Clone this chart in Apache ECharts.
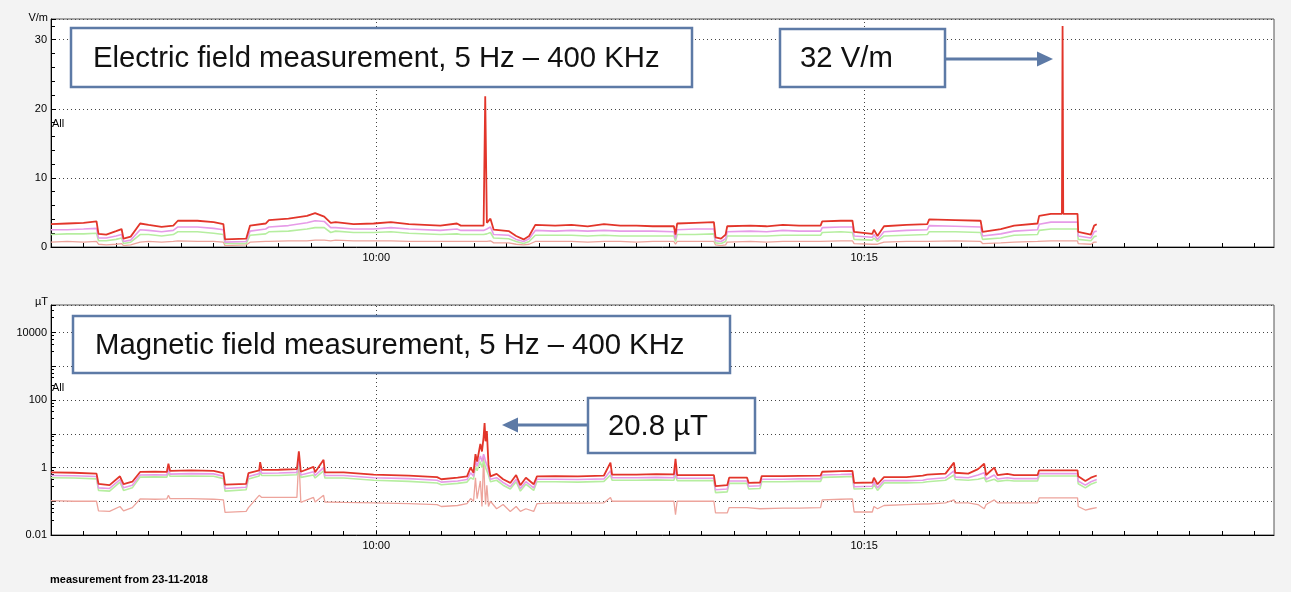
<!DOCTYPE html>
<html>
<head>
<meta charset="utf-8">
<title>Field measurement</title>
<script src="https://cdn.jsdelivr.net/npm/echarts@6/dist/echarts.min.js"></script>
<style>
  html, body { margin: 0; padding: 0; background: #f3f3f3; }
  #main { width: 1291px; height: 592px; }
</style>
</head>
<body>
<div id="main"></div>
<script>
// x values are minutes after 09:50
const TIME_TICKS = [10, 25];
const TIME_LABELS = ['10:00', '10:15'];

// electric field, V/m
const E_TICK_LABELS = ['0', '10', '20', '30'];
const E_TIME = [
  0.0, 0.5, 1.0, 1.4, 1.46, 1.7, 2.0, 2.17, 2.23, 2.45,
  2.74, 3.0, 3.4, 3.76, 3.9, 4.5, 5.0, 5.3, 5.35, 6.0,
  6.12, 6.6, 6.7, 7.3, 7.87, 8.12, 8.4, 8.6, 8.75, 9.3,
  9.92, 10.45, 11.0, 11.97, 12.48, 12.6, 13.3, 13.35, 13.4, 13.51,
  13.61, 14.07, 14.3, 14.53, 14.7, 14.89, 15.5, 16.0, 16.5, 17.0,
  17.5, 18.0, 18.5, 19.15, 19.2, 19.25, 19.8, 20.38, 20.43, 20.6,
  20.74, 20.79, 21.5, 22.0, 22.5, 23.0, 23.66, 23.71, 24.28, 24.64,
  24.69, 25.25, 25.3, 25.41, 25.61, 26.3, 26.94, 27.0, 27.8, 28.58,
  28.64, 29.2, 29.61, 30.33, 30.38, 30.74, 31.08, 31.1, 31.12, 31.56,
  31.58, 31.97, 32.07, 32.15
];
const E_RED = [
  3.3, 3.4, 3.5, 3.7, 1.9, 1.8, 2.3, 2.6, 1.2, 1.5,
  3.4, 3.2, 2.9, 3.1, 3.8, 3.8, 3.6, 3.3, 1.1, 1.2,
  3.1, 3.4, 3.9, 4.1, 4.5, 4.9, 4.4, 3.5, 3.6, 3.3,
  3.4, 3.6, 3.3, 3.1, 3.4, 3.1, 3.1, 21.8, 3.5, 4.1,
  2.5, 2.3, 1.6, 1.1, 1.6, 3.2, 3.1, 3.2, 3.0, 3.3,
  3.1, 3.1, 3.0, 3.0, 1.8, 3.4, 3.5, 3.6, 1.4, 1.2,
  1.8, 3.0, 3.1, 3.0, 3.2, 3.1, 3.1, 3.7, 3.8, 3.8,
  2.2, 1.9, 2.5, 1.6, 3.0, 3.2, 3.3, 4.0, 3.9, 3.8,
  2.2, 2.6, 3.1, 3.4, 4.5, 4.8, 4.8, 32.0, 4.8, 4.8,
  2.2, 1.8, 3.1, 3.3
];
const E_VIOLET = [
  2.5, 2.5, 2.6, 2.7, 1.3, 1.3, 1.6, 1.8, 0.8, 1.0,
  2.5, 2.4, 2.2, 2.4, 2.9, 2.9, 2.7, 2.5, 0.7, 0.8,
  2.3, 2.6, 2.9, 3.1, 3.5, 3.8, 3.7, 2.8, 2.8, 2.6,
  2.6, 2.8, 2.6, 2.4, 2.6, 2.4, 2.4, 2.6, 2.6, 2.9,
  1.8, 1.7, 1.1, 0.8, 1.2, 2.4, 2.3, 2.4, 2.3, 2.4,
  2.3, 2.3, 2.3, 2.2, 1.2, 2.5, 2.6, 2.6, 0.9, 0.8,
  1.2, 2.2, 2.3, 2.2, 2.4, 2.3, 2.3, 2.8, 2.9, 2.9,
  1.6, 1.4, 1.8, 1.1, 2.2, 2.4, 2.5, 3.1, 3.0, 2.9,
  1.6, 1.9, 2.3, 2.5, 3.3, 3.6, 3.6, 3.6, 3.6, 3.6,
  1.6, 1.3, 2.2, 2.3
];
const E_GREEN = [
  1.8, 1.9, 1.9, 2.0, 0.9, 0.9, 1.1, 1.3, 0.5, 0.7,
  1.8, 1.8, 1.6, 1.8, 2.2, 2.2, 2.0, 1.8, 0.5, 0.5,
  1.7, 1.9, 2.2, 2.3, 2.6, 2.8, 2.8, 2.1, 2.3, 2.1,
  2.1, 2.2, 2.0, 1.8, 1.9, 1.8, 1.8, 1.9, 1.9, 2.1,
  1.3, 1.2, 0.8, 0.5, 0.8, 1.7, 1.7, 1.7, 1.6, 1.7,
  1.6, 1.6, 1.6, 1.6, 0.8, 1.8, 1.8, 1.9, 0.6, 0.5,
  0.8, 1.6, 1.6, 1.6, 1.7, 1.7, 1.7, 2.1, 2.2, 2.1,
  1.1, 1.0, 1.3, 0.8, 1.6, 1.7, 1.8, 2.2, 2.2, 2.1,
  1.1, 1.3, 1.7, 1.8, 2.4, 2.6, 2.6, 2.6, 2.6, 2.6,
  1.1, 0.9, 1.5, 1.6
];
const E_SALMON = [
  0.7, 0.8, 0.7, 0.8, 0.4, 0.3, 0.4, 0.5, 0.2, 0.3,
  0.7, 0.8, 0.7, 0.8, 0.9, 0.8, 0.8, 0.7, 0.2, 0.3,
  0.7, 0.8, 0.8, 0.9, 0.9, 1.0, 1.0, 0.9, 1.0, 0.9,
  0.9, 0.9, 0.8, 0.8, 0.8, 0.8, 0.8, 0.9, 0.8, 0.9,
  0.6, 0.6, 0.4, 0.3, 0.4, 0.8, 0.8, 0.8, 0.7, 0.8,
  0.8, 0.7, 0.8, 0.8, 0.4, 0.8, 0.8, 0.8, 0.3, 0.2,
  0.3, 0.7, 0.8, 0.7, 0.8, 0.8, 0.8, 0.9, 0.9, 0.9,
  0.5, 0.4, 0.6, 0.4, 0.7, 0.8, 0.8, 0.9, 0.9, 0.8,
  0.5, 0.6, 0.7, 0.8, 0.9, 0.9, 0.9, 0.9, 0.9, 0.9,
  0.5, 0.4, 0.7, 0.7
];

// magnetic field, uT (log axis)
const B_TICK_VALUES = [0.01, 1, 100, 10000];
const B_TICK_LABELS = ['0.01', '1', '100', '10000'];
const B_TIME = [
  0.0, 0.7, 1.4, 1.46, 1.8, 2.12, 2.17, 2.23, 2.5, 2.74,
  3.2, 3.56, 3.61, 3.66, 4.3, 5.0, 5.3, 5.35, 6.0, 6.07,
  6.4, 6.43, 6.48, 7.0, 7.56, 7.62, 7.68, 8.07, 8.12, 8.38,
  8.42, 9.0, 9.92, 11.0, 11.87, 12.0, 12.5, 12.79, 12.9, 12.99,
  13.05, 13.1, 13.2, 13.25, 13.3, 13.33, 13.36, 13.4, 13.45, 13.51,
  13.7, 13.9, 14.12, 14.3, 14.43, 14.6, 14.84, 14.94, 15.5, 16.2,
  17.0, 17.2, 17.25, 18.0, 18.6, 19.15, 19.2, 19.25, 19.8, 20.38,
  20.43, 20.79, 20.85, 21.4, 21.45, 21.8, 21.85, 22.5, 23.0, 23.66,
  23.71, 24.28, 24.64, 24.69, 25.25, 25.3, 25.41, 25.61, 26.3, 26.8,
  26.94, 27.0, 27.5, 27.76, 27.8, 28.2, 28.5, 28.69, 28.75, 29.0,
  29.1, 29.4, 29.61, 30.33, 30.38, 31.56, 31.58, 31.8, 31.97, 32.15
];
const B_RED = [
  0.72, 0.70, 0.66, 0.33, 0.30, 0.55, 0.62, 0.32, 0.38, 0.74,
  0.76, 0.74, 1.3, 0.80, 0.82, 0.80, 0.68, 0.31, 0.33, 0.68,
  0.82, 1.45, 0.85, 0.86, 0.90, 3.0, 0.75, 1.05, 0.72, 1.7,
  0.72, 0.72, 0.62, 0.58, 0.52, 0.45, 0.50, 0.55, 1.0, 0.7,
  2.5, 1.5, 5.0, 3.0, 8.0, 20.8, 6.0, 12.0, 1.2, 0.55,
  0.65, 0.45, 0.35, 0.6, 0.3, 0.5, 0.32, 0.55, 0.56, 0.55,
  0.58, 1.4, 0.62, 0.62, 0.64, 0.63, 1.8, 0.6, 0.6, 0.6,
  0.28, 0.3, 0.5, 0.5, 0.35, 0.36, 0.56, 0.56, 0.57, 0.58,
  0.75, 0.78, 0.8, 0.35, 0.36, 0.5, 0.32, 0.52, 0.52, 0.58,
  0.62, 0.66, 0.66, 1.4, 0.7, 0.66, 0.9, 1.3, 0.6, 1.0,
  0.6, 0.65, 0.6, 0.6, 0.83, 0.83, 0.55, 0.4, 0.5, 0.58
];
const B_VIOLET = [
  0.58, 0.57, 0.54, 0.25, 0.24, 0.44, 0.48, 0.25, 0.30, 0.60,
  0.61, 0.60, 0.9, 0.64, 0.66, 0.65, 0.55, 0.24, 0.26, 0.54,
  0.66, 0.9, 0.68, 0.69, 0.72, 2.0, 0.6, 0.75, 0.58, 1.0,
  0.58, 0.58, 0.5, 0.47, 0.42, 0.37, 0.40, 0.44, 0.7, 0.55,
  1.6, 1.1, 2.2, 1.5, 2.5, 2.0, 1.5, 1.2, 0.8, 0.45,
  0.5, 0.36, 0.27, 0.45, 0.24, 0.38, 0.25, 0.45, 0.45, 0.44,
  0.46, 0.8, 0.5, 0.5, 0.51, 0.5, 0.9, 0.48, 0.48, 0.48,
  0.22, 0.23, 0.4, 0.4, 0.28, 0.29, 0.45, 0.45, 0.46, 0.46,
  0.6, 0.62, 0.64, 0.27, 0.28, 0.38, 0.25, 0.41, 0.41, 0.42,
  0.45, 0.5, 0.5, 0.8, 0.52, 0.5, 0.6, 0.7, 0.45, 0.6,
  0.46, 0.5, 0.47, 0.47, 0.66, 0.66, 0.4, 0.3, 0.38, 0.44
];
const B_GREEN = [
  0.50, 0.49, 0.46, 0.21, 0.20, 0.37, 0.41, 0.21, 0.25, 0.52,
  0.53, 0.52, 0.7, 0.55, 0.56, 0.55, 0.47, 0.20, 0.22, 0.46,
  0.56, 0.7, 0.58, 0.58, 0.61, 1.5, 0.51, 0.6, 0.49, 0.8,
  0.49, 0.49, 0.42, 0.39, 0.35, 0.31, 0.34, 0.37, 0.5, 0.45,
  1.1, 0.8, 1.5, 1.0, 1.6, 1.4, 1.0, 0.9, 0.6, 0.38,
  0.42, 0.3, 0.23, 0.38, 0.2, 0.32, 0.21, 0.38, 0.38, 0.37,
  0.39, 0.6, 0.42, 0.42, 0.43, 0.42, 0.6, 0.41, 0.41, 0.41,
  0.18, 0.19, 0.34, 0.34, 0.23, 0.24, 0.38, 0.38, 0.39, 0.39,
  0.51, 0.53, 0.54, 0.23, 0.24, 0.32, 0.21, 0.35, 0.35, 0.36,
  0.38, 0.42, 0.42, 0.6, 0.44, 0.42, 0.45, 0.5, 0.38, 0.45,
  0.39, 0.42, 0.4, 0.4, 0.56, 0.56, 0.33, 0.25, 0.32, 0.37
];
const B_SALMON = [
  0.105, 0.10, 0.10, 0.052, 0.05, 0.07, 0.075, 0.052, 0.065, 0.117,
  0.115, 0.117, 0.15, 0.12, 0.12, 0.115, 0.11, 0.047, 0.05, 0.065,
  0.15, 0.17, 0.13, 0.13, 0.13, 2.0, 0.093, 0.13, 0.095, 0.15,
  0.095, 0.093, 0.09, 0.085, 0.08, 0.07, 0.075, 0.085, 0.12, 0.1,
  0.5, 0.12, 0.4, 0.07, 2.0, 0.3, 0.08, 0.3, 0.07, 0.1,
  0.06, 0.08, 0.05, 0.07, 0.05, 0.06, 0.05, 0.085, 0.09, 0.088,
  0.09, 0.13, 0.1, 0.1, 0.1, 0.1, 0.04, 0.1, 0.1, 0.1,
  0.045, 0.045, 0.065, 0.065, 0.06, 0.06, 0.063, 0.063, 0.063, 0.065,
  0.11, 0.115, 0.117, 0.048, 0.048, 0.07, 0.06, 0.075, 0.08, 0.083,
  0.083, 0.085, 0.09, 0.11, 0.09, 0.09, 0.08, 0.06, 0.08, 0.11,
  0.09, 0.09, 0.09, 0.09, 0.126, 0.126, 0.07, 0.055, 0.06, 0.065
];

const COLORS = { red: '#e2352a', violet: '#e69be8', green: '#b6eea0', salmon: '#eda49c' };
const WIDTHS = { red: 1.8, violet: 1.6, green: 1.6, salmon: 1.3 };
const LABEL_FONT = '"Liberation Sans Narrow", "Liberation Sans", sans-serif';
const BOX = '#5d7aa6';
const dotted = { color: '#444', type: [1, 3], width: 1 };

const chart = echarts.init(document.getElementById('main'));

function pairs(times, vals) {
  return times.map((t, i) => [t, vals[i]]);
}

function xAxisFor(gridIndex) {
  return {
    type: 'value', gridIndex, min: 0, max: 37.6, interval: 1,
    axisLine: { show: true, lineStyle: { color: '#000' } },
    axisTick: { show: true, inside: true, length: 4, lineStyle: { color: '#000' } },
    splitLine: { show: false },
    axisLabel: {
      color: '#000', fontSize: 11, fontFamily: LABEL_FONT, margin: 5,
      showMinLabel: true, showMaxLabel: false,
      formatter: v => {
        const i = TIME_TICKS.indexOf(Math.round(v * 100) / 100);
        return i >= 0 ? TIME_LABELS[i] : '';
      }
    }
  };
}

function traces(prefix, data, gridIndex) {
  const names = ['salmon', 'green', 'violet', 'red'];
  return names.map((n, k) => ({
    type: 'line', name: prefix + n, xAxisIndex: gridIndex, yAxisIndex: gridIndex,
    data: pairs(data.time, data[n]), showSymbol: false, symbol: 'none',
    lineStyle: { color: COLORS[n], width: WIDTHS[n] },
    z: 2 + k,
    markLine: k === 0 ? {
      silent: true, symbol: ['none', 'none'], label: { show: false },
      lineStyle: dotted, animation: false,
      data: TIME_TICKS.map(t => ({ xAxis: t }))
    } : undefined
  }));
}

function boxWithText(x, y, w, h, text, tx) {
  return [
    { type: 'rect', shape: { x, y, width: w, height: h }, style: { fill: '#fff', stroke: BOX, lineWidth: 2.5 }, z: 10 },
    { type: 'text', style: { text, x: tx, y: y + h / 2 + 1, font: '29.3px "Liberation Sans", Arial, sans-serif', fill: '#111', verticalAlign: 'middle' }, z: 11 }
  ];
}

function arrow(x1, x2, y, dir) {
  const tip = x2, base = x2 - dir * 16;
  return [
    { type: 'line', shape: { x1, y1: y, x2: base, y2: y }, style: { stroke: BOX, lineWidth: 3 }, z: 10 },
    { type: 'polygon', shape: { points: [[base, y - 7.5], [tip, y], [base, y + 7.5]] }, style: { fill: BOX }, z: 10 }
  ];
}

function smallText(text, x, y, align) {
  return { type: 'text', style: { text, x, y, align, verticalAlign: 'middle', font: '11px ' + LABEL_FONT, fill: '#000' }, z: 11 };
}

const option = {
  animation: false,
  backgroundColor: '#f3f3f3',
  grid: [
    { left: 51, top: 19, right: 17, height: 228, show: true, backgroundColor: '#fff', borderColor: '#555', borderWidth: 1 },
    { left: 51, top: 305, right: 17, height: 230, show: true, backgroundColor: '#fff', borderColor: '#555', borderWidth: 1 }
  ],
  xAxis: [xAxisFor(0), xAxisFor(1)],
  yAxis: [
    {
      type: 'value', gridIndex: 0, min: 0, max: 33, interval: 10,
      axisLine: { show: true, lineStyle: { color: '#000' } },
      axisTick: { show: true, inside: true, length: 5, lineStyle: { color: '#000' } },
      minorTick: { show: true, splitNumber: 5, length: 4, lineStyle: { color: '#000' } },
      splitLine: { show: true, lineStyle: dotted },
      axisLabel: {
        color: '#000', fontSize: 11, fontFamily: LABEL_FONT, margin: 4,
        formatter: v => E_TICK_LABELS.includes(String(v)) ? String(v) : ''
      }
    },
    {
      type: 'log', gridIndex: 1, min: 0.01, max: 66000, logBase: 10,
      axisLine: { show: true, lineStyle: { color: '#000' } },
      axisTick: { show: true, inside: true, length: 5, lineStyle: { color: '#000' } },
      minorTick: { show: true, splitNumber: 5, length: 3, lineStyle: { color: '#000' } },
      splitLine: { show: true, lineStyle: dotted },
      axisLabel: {
        color: '#000', fontSize: 11, fontFamily: LABEL_FONT, margin: 4,
        formatter: v => {
          const i = B_TICK_VALUES.findIndex(tv => Math.abs(Math.log10(v) - Math.log10(tv)) < 0.01);
          return i >= 0 ? B_TICK_LABELS[i] : '';
        }
      }
    }
  ],
  series: [
    ...traces('E-', { time: E_TIME, red: E_RED, violet: E_VIOLET, green: E_GREEN, salmon: E_SALMON }, 0),
    ...traces('B-', { time: B_TIME, red: B_RED, violet: B_VIOLET, green: B_GREEN, salmon: B_SALMON }, 1)
  ],
  graphic: [
    ...boxWithText(71, 28, 621, 59, 'Electric field measurement, 5 Hz \u2013 400 KHz', 93),
    ...boxWithText(780, 29, 165, 58, '32 V/m', 800),
    ...arrow(946, 1053, 59, 1),
    ...boxWithText(73, 316, 657, 57, 'Magnetic field measurement, 5 Hz \u2013 400 KHz', 95),
    ...boxWithText(588, 398, 167, 55, '20.8 \u00b5T', 608),
    ...arrow(587, 502, 425, -1),
    smallText('V/m', 48, 18, 'right'),
    smallText('All', 52, 124, 'left'),
    smallText('\u00b5T', 48, 302, 'right'),
    smallText('All', 52, 388, 'left'),
    { type: 'text', style: { text: 'measurement from 23-11-2018', x: 50, y: 580, verticalAlign: 'middle', font: 'bold 11px ' + LABEL_FONT, fill: '#000' }, z: 11 }
  ]
};

chart.setOption(option);
</script>
</body>
</html>
